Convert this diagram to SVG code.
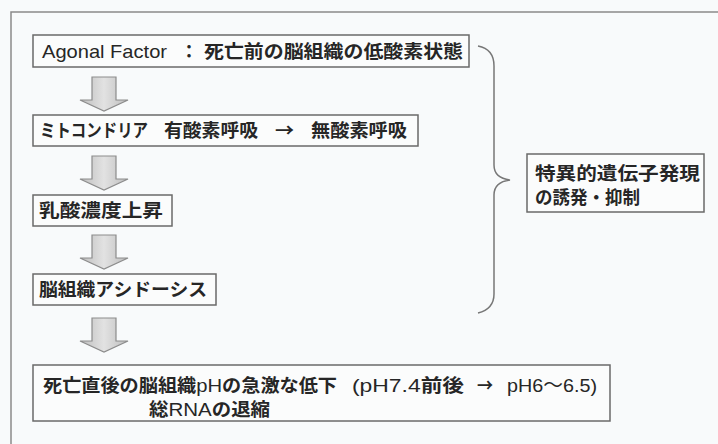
<svg xmlns="http://www.w3.org/2000/svg" width="718" height="444" viewBox="0 0 718 444">
<defs>
<linearGradient id="ag" x1="0" y1="0" x2="1" y2="0">
<stop offset="0" stop-color="#bdbdbd"/>
<stop offset="0.5" stop-color="#e2e2e2"/>
<stop offset="1" stop-color="#bdbdbd"/>
</linearGradient>
<path id="arr" d="M-12,0 H12 V23 H24 L0,34 L-24,23 H-12 Z"/>
</defs>
<style>
.bg{fill:#f8fafb}
.frame{fill:none;stroke:#8a8a8a;stroke-width:1.5}
.box{fill:#fbfcfc;stroke:#6a6a6a;stroke-width:1.5}
.t{font-family:"Noto Sans CJK JP","Liberation Sans",sans-serif;font-weight:700;font-size:18px;fill:#262626}
.l{font-family:"Liberation Sans","Noto Sans CJK JP",sans-serif;font-weight:400;font-size:19px;fill:#262626}
.arrow{fill:url(#ag);stroke:#8c8c8c;stroke-width:1.2}
.brace{fill:none;stroke:#777;stroke-width:1.5}
</style>
<rect class="bg" x="0" y="0" width="718" height="444"/>
<path class="frame" d="M11,460 V12 H730"/>

<g id="n1">
<rect class="box" x="33" y="35" width="436" height="32"/>
<text class="l" x="42" y="58" textLength="125" lengthAdjust="spacingAndGlyphs">Agonal Factor</text>
<text class="t" x="180" y="58">：</text>
<text class="t" x="204" y="58" textLength="259" lengthAdjust="spacingAndGlyphs">死亡前の脳組織の低酸素状態</text>
</g>
<g id="n2">
<rect class="box" x="33" y="115" width="385" height="31"/>
<text class="t" x="40" y="137" textLength="108" lengthAdjust="spacingAndGlyphs">ミトコンドリア</text>
<text class="t" x="164" y="137" textLength="94" lengthAdjust="spacingAndGlyphs">有酸素呼吸</text>
<text class="t" x="275" y="137" textLength="19" lengthAdjust="spacingAndGlyphs">→</text>
<text class="t" x="311" y="137" textLength="96" lengthAdjust="spacingAndGlyphs">無酸素呼吸</text>
</g>
<g id="n3">
<rect class="box" x="33" y="195" width="139" height="31"/>
<text class="t" x="39" y="217" textLength="124" lengthAdjust="spacingAndGlyphs">乳酸濃度上昇</text>
</g>
<g id="n4">
<rect class="box" x="33" y="274" width="183" height="31"/>
<text class="t" x="39" y="296" textLength="168" lengthAdjust="spacingAndGlyphs">脳組織アシドーシス</text>
</g>
<g id="n5">
<rect class="box" x="33" y="365" width="577" height="56"/>
<text class="t" x="43" y="392" textLength="294" lengthAdjust="spacingAndGlyphs">死亡直後の脳組織<tspan class="l">pH</tspan>の急激な低下</text>
<text class="t" x="352" y="392" textLength="112" lengthAdjust="spacingAndGlyphs"><tspan class="l">(pH7.4</tspan>前後</text>
<text class="t" x="477" y="392" textLength="16" lengthAdjust="spacingAndGlyphs">→</text>
<text class="l" x="507" y="392" textLength="90" lengthAdjust="spacingAndGlyphs">pH6〜6.5)</text>
<text class="t" x="149" y="416" textLength="121" lengthAdjust="spacingAndGlyphs">総<tspan class="l">RNA</tspan>の退縮</text>
</g>
<g id="n6">
<rect class="box" x="527" y="154" width="177" height="58"/>
<text class="t" x="535" y="180" textLength="165" lengthAdjust="spacingAndGlyphs">特異的遺伝子発現</text>
<text class="t" x="535" y="204" textLength="105" lengthAdjust="spacingAndGlyphs">の誘発・抑制</text>
</g>

<g id="connectors">
<use href="#arr" class="arrow" transform="translate(104,77)"/>
<use href="#arr" class="arrow" transform="translate(104,156)"/>
<use href="#arr" class="arrow" transform="translate(104,235)"/>
<use href="#arr" class="arrow" transform="translate(104,318)"/>
<path class="brace" d="M478,46 Q494,49 494,66 V165 Q494,178 510,180 Q494,182 494,195 V294 Q494,309 478,313"/>
</g>
</svg>
